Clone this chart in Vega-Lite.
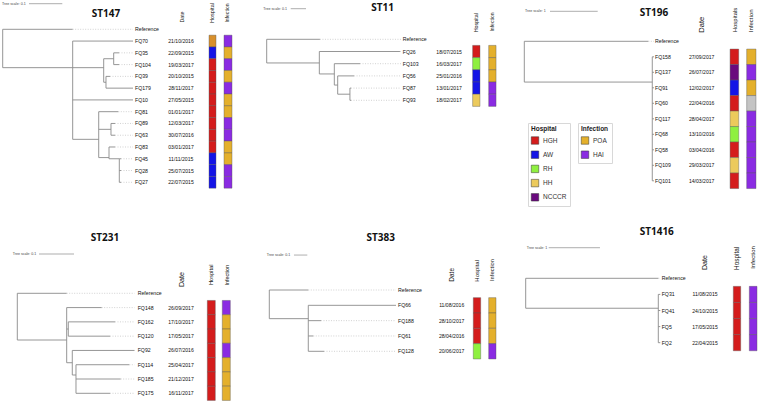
{
"$schema":"https://vega.github.io/schema/vega-lite/v6.json",
"padding":0,
"spacing":0,
"bounds":"flush",
"align":"each",
"columns":3,
"config":{"view":{"stroke":null},"axis":{"disable":true},"scale":{"continuousPadding":0},"text":{"font":"Liberation Sans","color":"#111"},
"legend":{"strokeColor":"#d8d8d8","padding":3,"titleFontSize":6.5,"titleFont":"Liberation Sans","titleFontWeight":"bold","titleColor":"#222","labelFontSize":6.5,"labelFont":"Liberation Sans","labelColor":"#333","symbolType":"square","symbolSize":56,"symbolStrokeColor":"#333","symbolStrokeWidth":0.5,"rowPadding":4.2,"titlePadding":4,"labelOffset":4,"symbolOpacity":1}},
"datasets":{
"panels":[
{"st":"ST147","title":"ST147","scale":"Tree scale: 0.1"},
{"st":"ST11","title":"ST11","scale":"Tree scale: 0.1"},
{"st":"ST196","title":"ST196","scale":"Tree scale: 1"},
{"st":"ST231","title":"ST231","scale":"Tree scale: 0.1"},
{"st":"ST383","title":"ST383","scale":"Tree scale: 0.1"},
{"st":"ST1416","title":"ST1416","scale":"Tree scale: 1"}],
"hedges":[
{"st":"ST147","x":0,"x2":0.2108,"y":3.26},
{"st":"ST147","x":0.2108,"x2":0.3042,"y":3.26},
{"st":"ST147","x":0.3042,"x2":0.3343,"y":2.5},
{"st":"ST147","x":0.3042,"x2":0.3111,"y":4.5},
{"st":"ST147","x":0.2108,"x2":0.2892,"y":9.35},
{"st":"ST147","x":0.2892,"x2":0.3262,"y":8.5},
{"st":"ST147","x":0.2892,"x2":0.3202,"y":10.9},
{"st":"ST147","x":0.3202,"x2":0.3512,"y":11},
{"st":"ST11","x":0,"x2":0.344,"y":1.94},
{"st":"ST11","x":0.344,"x2":0.442,"y":2.84},
{"st":"ST11","x":0.442,"x2":0.464,"y":3.75},
{"st":"ST11","x":0.464,"x2":0.544,"y":4.5},
{"st":"ST196","x":0,"x2":2.683,"y":2.63},
{"st":"ST231","x":0,"x2":0.1411,"y":3.27},
{"st":"ST231","x":0.1411,"x2":0.1457,"y":2.5},
{"st":"ST231","x":0.1411,"x2":0.1571,"y":4.86},
{"st":"ST231","x":0.1571,"x2":0.1677,"y":5.72},
{"st":"ST383","x":0,"x2":0.2932,"y":1.87},
{"st":"ST1416","x":0,"x2":2.585,"y":1.86}],
"vedges":[
{"st":"ST147","x":0,"y":0,"y2":3.26},
{"st":"ST147","x":0.2108,"y":1,"y2":9.35},
{"st":"ST147","x":0.3042,"y":2.5,"y2":4.5},
{"st":"ST147","x":0.3343,"y":2,"y2":3},
{"st":"ST147","x":0.3111,"y":4,"y2":5},
{"st":"ST147","x":0.2892,"y":7,"y2":10.9},
{"st":"ST147","x":0.3262,"y":8,"y2":9},
{"st":"ST147","x":0.3202,"y":10,"y2":11},
{"st":"ST147","x":0.3512,"y":11,"y2":13},
{"st":"ST11","x":0,"y":0,"y2":1.94},
{"st":"ST11","x":0.344,"y":1,"y2":2.84},
{"st":"ST11","x":0.442,"y":2,"y2":3.75},
{"st":"ST11","x":0.464,"y":3,"y2":4.5},
{"st":"ST11","x":0.544,"y":4,"y2":5},
{"st":"ST196","x":0,"y":0,"y2":2.63},
{"st":"ST196","x":2.683,"y":1,"y2":9},
{"st":"ST231","x":0,"y":0,"y2":3.27},
{"st":"ST231","x":0.1411,"y":1,"y2":4.86},
{"st":"ST231","x":0.1457,"y":2,"y2":3},
{"st":"ST231","x":0.1571,"y":4,"y2":5.72},
{"st":"ST231","x":0.1677,"y":5,"y2":7},
{"st":"ST383","x":0,"y":0,"y2":1.87},
{"st":"ST383","x":0.2932,"y":1,"y2":4},
{"st":"ST1416","x":0,"y":0,"y2":1.86},
{"st":"ST1416","x":2.585,"y":1,"y2":4}],
"tips":[
{"st":"ST147","label":"Reference","r":0,"px":0,"tipx":0.2108},
{"st":"ST147","label":"FQ70","r":1,"px":0.2108,"tipx":0.3925,"date":"21/10/2016","hosp":"Other","inf":"HAI"},
{"st":"ST147","label":"FQ35","r":2,"px":0.3343,"tipx":0.3503,"date":"22/09/2015","hosp":"AW","inf":"POA"},
{"st":"ST147","label":"FQ104","r":3,"px":0.3343,"tipx":0.3503,"date":"19/03/2017","hosp":"HGH","inf":"HAI"},
{"st":"ST147","label":"FQ39","r":4,"px":0.3111,"tipx":0.3232,"date":"20/10/2015","hosp":"HGH","inf":"POA"},
{"st":"ST147","label":"FQ179","r":5,"px":0.3111,"tipx":0.3925,"date":"28/11/2017","hosp":"HGH","inf":"HAI"},
{"st":"ST147","label":"FQ10","r":6,"px":0.2108,"tipx":0.3925,"date":"27/05/2015","hosp":"HGH","inf":"POA"},
{"st":"ST147","label":"FQ81","r":7,"px":0.2892,"tipx":0.3482,"date":"01/01/2017","hosp":"HGH","inf":"POA"},
{"st":"ST147","label":"FQ89","r":8,"px":0.3262,"tipx":0.3383,"date":"12/03/2017","hosp":"HGH","inf":"HAI"},
{"st":"ST147","label":"FQ63","r":9,"px":0.3262,"tipx":0.3383,"date":"30/07/2016","hosp":"HGH","inf":"HAI"},
{"st":"ST147","label":"FQ83","r":10,"px":0.3202,"tipx":0.3383,"date":"03/01/2017","hosp":"HGH","inf":"POA"},
{"st":"ST147","label":"FQ45","r":11,"px":0.3512,"tipx":0.3563,"date":"11/11/2015","hosp":"AW","inf":"POA"},
{"st":"ST147","label":"FQ28","r":12,"px":0.3512,"tipx":0.3563,"date":"25/07/2015","hosp":"AW","inf":"HAI"},
{"st":"ST147","label":"FQ27","r":13,"px":0.3512,"tipx":0.3563,"date":"22/07/2015","hosp":"AW","inf":"HAI"},
{"st":"ST11","label":"Reference","r":0,"px":0,"tipx":0.348},
{"st":"ST11","label":"FQ26","r":1,"px":0.344,"tipx":0.871,"date":"18/07/2015","hosp":"HGH","inf":"POA"},
{"st":"ST11","label":"FQ103","r":2,"px":0.442,"tipx":0.61,"date":"16/03/2017","hosp":"RH","inf":"POA"},
{"st":"ST11","label":"FQ56","r":3,"px":0.464,"tipx":0.571,"date":"25/01/2016","hosp":"AW","inf":"POA"},
{"st":"ST11","label":"FQ87","r":4,"px":0.544,"tipx":0.551,"date":"13/01/2017","hosp":"AW","inf":"HAI"},
{"st":"ST11","label":"FQ93","r":5,"px":0.544,"tipx":0.551,"date":"18/02/2017","hosp":"HH","inf":"HAI"},
{"st":"ST196","label":"Reference","r":0,"px":0,"tipx":2.6},
{"st":"ST196","label":"FQ158","r":1,"px":2.683,"tipx":2.719,"date":"27/09/2017","hosp":"HGH","inf":"POA"},
{"st":"ST196","label":"FQ137","r":2,"px":2.683,"tipx":2.719,"date":"26/07/2017","hosp":"NCCCR","inf":"HAI"},
{"st":"ST196","label":"FQ91","r":3,"px":2.683,"tipx":2.719,"date":"12/02/2017","hosp":"AW","inf":"POA"},
{"st":"ST196","label":"FQ60","r":4,"px":2.683,"tipx":2.719,"date":"22/04/2016","hosp":"HGH","inf":"Unknown"},
{"st":"ST196","label":"FQ117","r":5,"px":2.683,"tipx":2.719,"date":"28/04/2017","hosp":"HH","inf":"HAI"},
{"st":"ST196","label":"FQ68","r":6,"px":2.683,"tipx":2.719,"date":"13/10/2016","hosp":"RH","inf":"HAI"},
{"st":"ST196","label":"FQ58","r":7,"px":2.683,"tipx":2.719,"date":"03/04/2016","hosp":"HGH","inf":"HAI"},
{"st":"ST196","label":"FQ109","r":8,"px":2.683,"tipx":2.719,"date":"29/03/2017","hosp":"HH","inf":"HAI"},
{"st":"ST196","label":"FQ101","r":9,"px":2.683,"tipx":2.719,"date":"14/03/2017","hosp":"HGH","inf":"HAI"},
{"st":"ST231","label":"Reference","r":0,"px":0,"tipx":0.1411},
{"st":"ST231","label":"FQ148","r":1,"px":0.1411,"tipx":0.2411,"date":"26/09/2017","hosp":"HGH","inf":"HAI"},
{"st":"ST231","label":"FQ162","r":2,"px":0.1457,"tipx":0.2791,"date":"17/10/2017","hosp":"HGH","inf":"POA"},
{"st":"ST231","label":"FQ120","r":3,"px":0.1457,"tipx":0.2649,"date":"17/05/2017","hosp":"HGH","inf":"POA"},
{"st":"ST231","label":"FQ92","r":4,"px":0.1571,"tipx":0.3349,"date":"26/07/2016","hosp":"HGH","inf":"HAI"},
{"st":"ST231","label":"FQ114","r":5,"px":0.1677,"tipx":0.32,"date":"25/04/2017","hosp":"HGH","inf":"POA"},
{"st":"ST231","label":"FQ185","r":6,"px":0.1677,"tipx":0.2954,"date":"21/12/2017","hosp":"HGH","inf":"POA"},
{"st":"ST231","label":"FQ175","r":7,"px":0.1677,"tipx":0.2649,"date":"16/11/2017","hosp":"HGH","inf":"POA"},
{"st":"ST383","label":"Reference","r":0,"px":0,"tipx":0.2932},
{"st":"ST383","label":"FQ66","r":1,"px":0.2932,"tipx":0.9526,"date":"11/08/2016","hosp":"HGH","inf":"POA"},
{"st":"ST383","label":"FQ188","r":2,"px":0.2932,"tipx":0.3887,"date":"28/10/2017","hosp":"HGH","inf":"POA"},
{"st":"ST383","label":"FQ61","r":3,"px":0.2932,"tipx":0.3308,"date":"28/04/2016","hosp":"HGH","inf":"POA"},
{"st":"ST383","label":"FQ128","r":4,"px":0.2932,"tipx":0.4113,"date":"20/06/2017","hosp":"RH","inf":"HAI"},
{"st":"ST1416","label":"Reference","r":0,"px":0,"tipx":2.585},
{"st":"ST1416","label":"FQ31","r":1,"px":2.585,"tipx":2.624,"date":"11/08/2015","hosp":"HGH","inf":"HAI"},
{"st":"ST1416","label":"FQ41","r":2,"px":2.585,"tipx":2.624,"date":"24/10/2015","hosp":"HGH","inf":"HAI"},
{"st":"ST1416","label":"FQ5","r":3,"px":2.585,"tipx":2.624,"date":"17/05/2015","hosp":"HGH","inf":"HAI"},
{"st":"ST1416","label":"FQ2","r":4,"px":2.585,"tipx":2.624,"date":"22/04/2015","hosp":"HGH","inf":"HAI"}]
},
"concat":[
{"width":250,"height":222,"layer":[
{"data":{"name":"hedges"},"transform":[{"filter":"datum.st==='ST147'"}],"mark":{"type":"rule","stroke":"#8a8a8a","strokeWidth":0.9},
"encoding":{"x":{"field":"x","type":"quantitative","scale":{"domain":[0,0.1],"range":[2.7,35.9],"nice":false,"zero":false,"padding":0}},"x2":{"field":"x2"},
"y":{"field":"y","type":"quantitative","scale":{"domain":[0,13],"range":[29.3,182.3],"nice":false,"zero":false,"padding":0}}}},
{"data":{"name":"vedges"},"transform":[{"filter":"datum.st==='ST147'"}],"mark":{"type":"rule","stroke":"#8a8a8a","strokeWidth":0.9},
"encoding":{"x":{"field":"x","type":"quantitative"},"y":{"field":"y","type":"quantitative"},"y2":{"field":"y2"}}},
{"data":{"name":"tips"},"transform":[{"filter":"datum.st==='ST147'"}],"mark":{"type":"rule","stroke":"#8a8a8a","strokeWidth":0.9},
"encoding":{"x":{"field":"px","type":"quantitative"},"x2":{"field":"tipx"},"y":{"field":"r","type":"quantitative"}}},
{"data":{"name":"tips"},"transform":[{"filter":"datum.st==='ST147'"}],"mark":{"type":"rule","stroke":"#b4b4b4","strokeWidth":0.6,"strokeDash":[1,1.5]},
"encoding":{"x":{"field":"tipx","type":"quantitative"},"x2":{"datum":0.3925},"y":{"field":"r","type":"quantitative"}}},
{"data":{"name":"tips"},"transform":[{"filter":"datum.st==='ST147'"}],"mark":{"type":"text","align":"left","baseline":"middle","fontSize":5.2},
"encoding":{"x":{"datum":0.3985},"y":{"field":"r","type":"quantitative"},"text":{"field":"label"}}},
{"data":{"name":"tips"},"transform":[{"filter":"datum.st==='ST147' && datum.date"}],"mark":{"type":"text","align":"center","baseline":"middle","fontSize":5.1},
"encoding":{"x":{"datum":0.537},"y":{"field":"r","type":"quantitative"},"text":{"field":"date"}}},
{"data":{"name":"tips"},"transform":[{"filter":"datum.st==='ST147' && datum.hosp"}],"mark":{"type":"bar","size":11.77,"stroke":"#555","strokeWidth":0.4},
"encoding":{"x":{"datum":0.6214},"x2":{"datum":0.6425},"y":{"field":"r","type":"quantitative"},
"fill":{"field":"hosp","type":"nominal","scale":{"domain":["HGH","AW","RH","HH","NCCCR","Other"],"range":["#d41c1c","#1414e6","#8ff040","#ecca5c","#6a0a7e","#d8902c"]},"legend":{"title":"Hospital","orient":"none","legendX":528,"legendY":123,"values":["HGH","AW","RH","HH","NCCCR"]}}}},
{"data":{"name":"tips"},"transform":[{"filter":"datum.st==='ST147' && datum.inf"}],"mark":{"type":"bar","size":11.77,"stroke":"#555","strokeWidth":0.4},
"encoding":{"x":{"datum":0.6666},"x2":{"datum":0.6907},"y":{"field":"r","type":"quantitative"},
"color":{"field":"inf","type":"nominal","scale":{"domain":["POA","HAI","Unknown"],"range":["#e4b02c","#8a2be2","#c4c4c4"]},"legend":{"title":"Infection","orient":"none","legendX":578,"legendY":123,"values":["POA","HAI"]}}}},
{"data":{"name":"panels"},"transform":[{"filter":"datum.st==='ST147'"}],"mark":{"type":"text","font":"Open Sans","fontWeight":"bold","fontSize":10,"align":"center","baseline":"middle"},
"encoding":{"x":{"datum":0.3111},"y":{"datum":-1.3},"text":{"field":"title"}}},
{"data":{"name":"panels"},"transform":[{"filter":"datum.st==='ST147'"}],"mark":{"type":"text","fontSize":5.2,"angle":270,"align":"center","baseline":"middle"},
"encoding":{"x":{"datum":0.5392},"y":{"datum":-1.045},"text":{"value":"Date"}}},
{"data":{"name":"panels"},"transform":[{"filter":"datum.st==='ST147'"}],"mark":{"type":"text","fontSize":5.5,"angle":270,"align":"center","baseline":"middle"},
"encoding":{"x":{"datum":0.6304},"y":{"datum":-1.385},"text":{"value":"Hospital"}}},
{"data":{"name":"panels"},"transform":[{"filter":"datum.st==='ST147'"}],"mark":{"type":"text","fontSize":5.1,"angle":270,"align":"center","baseline":"middle"},
"encoding":{"x":{"datum":0.6771},"y":{"datum":-1.385},"text":{"value":"Infection"}}},
{"data":{"name":"panels"},"transform":[{"filter":"datum.st==='ST147'"}],"mark":{"type":"text","fontSize":3.6,"align":"left","baseline":"middle","color":"#444"},
"encoding":{"x":{"datum":-0.0021},"y":{"datum":-2.175},"text":{"field":"scale"}}},
{"data":{"name":"panels"},"transform":[{"filter":"datum.st==='ST147'"}],"mark":{"type":"rule","stroke":"#777","strokeWidth":0.6},
"encoding":{"x":{"datum":0.0792},"x2":{"datum":0.1795},"y":{"datum":-2.175}}}
]},
{"width":250,"height":222,"layer":[
{"data":{"name":"hedges"},"transform":[{"filter":"datum.st==='ST11'"}],"mark":{"type":"rule","stroke":"#8a8a8a","strokeWidth":0.9},
"encoding":{"x":{"field":"x","type":"quantitative","scale":{"domain":[0,0.1],"range":[16.7,32.0],"nice":false,"zero":false,"padding":0}},"x2":{"field":"x2"},
"y":{"field":"y","type":"quantitative","scale":{"domain":[0,5],"range":[39.3,100.3],"nice":false,"zero":false,"padding":0}}}},
{"data":{"name":"vedges"},"transform":[{"filter":"datum.st==='ST11'"}],"mark":{"type":"rule","stroke":"#8a8a8a","strokeWidth":0.9},
"encoding":{"x":{"field":"x","type":"quantitative"},"y":{"field":"y","type":"quantitative"},"y2":{"field":"y2"}}},
{"data":{"name":"tips"},"transform":[{"filter":"datum.st==='ST11'"}],"mark":{"type":"rule","stroke":"#8a8a8a","strokeWidth":0.9},
"encoding":{"x":{"field":"px","type":"quantitative"},"x2":{"field":"tipx"},"y":{"field":"r","type":"quantitative"}}},
{"data":{"name":"tips"},"transform":[{"filter":"datum.st==='ST11'"}],"mark":{"type":"rule","stroke":"#b4b4b4","strokeWidth":0.6,"strokeDash":[1,1.5]},
"encoding":{"x":{"field":"tipx","type":"quantitative"},"x2":{"datum":0.878},"y":{"field":"r","type":"quantitative"}}},
{"data":{"name":"tips"},"transform":[{"filter":"datum.st==='ST11'"}],"mark":{"type":"text","align":"left","baseline":"middle","fontSize":5.2},
"encoding":{"x":{"datum":0.889},"y":{"field":"r","type":"quantitative"},"text":{"field":"label"}}},
{"data":{"name":"tips"},"transform":[{"filter":"datum.st==='ST11' && datum.date"}],"mark":{"type":"text","align":"center","baseline":"middle","fontSize":5.1},
"encoding":{"x":{"datum":1.192},"y":{"field":"r","type":"quantitative"},"text":{"field":"date"}}},
{"data":{"name":"tips"},"transform":[{"filter":"datum.st==='ST11' && datum.hosp"}],"mark":{"type":"bar","size":12.2,"stroke":"#555","strokeWidth":0.4},
"encoding":{"x":{"datum":1.346},"x2":{"datum":1.394},"y":{"field":"r","type":"quantitative"},
"fill":{"field":"hosp","type":"nominal","scale":{"domain":["HGH","AW","RH","HH","NCCCR","Other"],"range":["#d41c1c","#1414e6","#8ff040","#ecca5c","#6a0a7e","#d8902c"]},"legend":{"title":"Hospital","orient":"none","legendX":528,"legendY":123,"values":["HGH","AW","RH","HH","NCCCR"]}}}},
{"data":{"name":"tips"},"transform":[{"filter":"datum.st==='ST11' && datum.inf"}],"mark":{"type":"bar","size":12.2,"stroke":"#555","strokeWidth":0.4},
"encoding":{"x":{"datum":1.451},"x2":{"datum":1.499},"y":{"field":"r","type":"quantitative"},
"color":{"field":"inf","type":"nominal","scale":{"domain":["POA","HAI","Unknown"],"range":["#e4b02c","#8a2be2","#c4c4c4"]},"legend":{"title":"Infection","orient":"none","legendX":578,"legendY":123,"values":["POA","HAI"]}}}},
{"data":{"name":"panels"},"transform":[{"filter":"datum.st==='ST11'"}],"mark":{"type":"text","font":"Open Sans","fontWeight":"bold","fontSize":10,"align":"center","baseline":"middle"},
"encoding":{"x":{"datum":0.758},"y":{"datum":-2.6},"text":{"field":"title"}}},
{"data":{"name":"panels"},"transform":[{"filter":"datum.st==='ST11'"}],"mark":{"type":"text","fontSize":5.3,"angle":270,"align":"center","baseline":"middle"},
"encoding":{"x":{"datum":1.366},"y":{"datum":-1.36},"text":{"value":"Hospital"}}},
{"data":{"name":"panels"},"transform":[{"filter":"datum.st==='ST11'"}],"mark":{"type":"text","fontSize":5.1,"angle":270,"align":"center","baseline":"middle"},
"encoding":{"x":{"datum":1.475},"y":{"datum":-1.42},"text":{"value":"Infection"}}},
{"data":{"name":"panels"},"transform":[{"filter":"datum.st==='ST11'"}],"mark":{"type":"text","fontSize":3.6,"align":"left","baseline":"middle","color":"#444"},
"encoding":{"x":{"datum":-0.0222},"y":{"datum":-2.508},"text":{"field":"scale"}}},
{"data":{"name":"panels"},"transform":[{"filter":"datum.st==='ST11'"}],"mark":{"type":"rule","stroke":"#777","strokeWidth":0.6},
"encoding":{"x":{"datum":0.1569},"x2":{"datum":0.2569},"y":{"datum":-2.508}}}
]},
{"width":258,"height":222,"layer":[
{"data":{"name":"hedges"},"transform":[{"filter":"datum.st==='ST196'"}],"mark":{"type":"rule","stroke":"#8a8a8a","strokeWidth":0.9},
"encoding":{"x":{"field":"x","type":"quantitative","scale":{"domain":[0,1],"range":[24.3,72.0],"nice":false,"zero":false,"padding":0}},"x2":{"field":"x2"},
"y":{"field":"y","type":"quantitative","scale":{"domain":[0,9],"range":[41.3,180.8],"nice":false,"zero":false,"padding":0}}}},
{"data":{"name":"vedges"},"transform":[{"filter":"datum.st==='ST196'"}],"mark":{"type":"rule","stroke":"#8a8a8a","strokeWidth":0.9},
"encoding":{"x":{"field":"x","type":"quantitative"},"y":{"field":"y","type":"quantitative"},"y2":{"field":"y2"}}},
{"data":{"name":"tips"},"transform":[{"filter":"datum.st==='ST196'"}],"mark":{"type":"rule","stroke":"#8a8a8a","strokeWidth":0.9},
"encoding":{"x":{"field":"px","type":"quantitative"},"x2":{"field":"tipx"},"y":{"field":"r","type":"quantitative"}}},
{"data":{"name":"tips"},"transform":[{"filter":"datum.st==='ST196'"}],"mark":{"type":"rule","stroke":"#b4b4b4","strokeWidth":0.6,"strokeDash":[1,1.5]},
"encoding":{"x":{"field":"tipx","type":"quantitative"},"x2":{"datum":2.719},"y":{"field":"r","type":"quantitative"}}},
{"data":{"name":"tips"},"transform":[{"filter":"datum.st==='ST196'"}],"mark":{"type":"text","align":"left","baseline":"middle","fontSize":5.2},
"encoding":{"x":{"datum":2.74},"y":{"field":"r","type":"quantitative"},"text":{"field":"label"}}},
{"data":{"name":"tips"},"transform":[{"filter":"datum.st==='ST196' && datum.date"}],"mark":{"type":"text","align":"center","baseline":"middle","fontSize":5.1},
"encoding":{"x":{"datum":3.719},"y":{"field":"r","type":"quantitative"},"text":{"field":"date"}}},
{"data":{"name":"tips"},"transform":[{"filter":"datum.st==='ST196' && datum.hosp"}],"mark":{"type":"bar","size":15.5,"stroke":"#555","strokeWidth":0.4},
"encoding":{"x":{"datum":4.314},"x2":{"datum":4.495},"y":{"field":"r","type":"quantitative"},
"fill":{"field":"hosp","type":"nominal","scale":{"domain":["HGH","AW","RH","HH","NCCCR","Other"],"range":["#d41c1c","#1414e6","#8ff040","#ecca5c","#6a0a7e","#d8902c"]},"legend":{"title":"Hospital","orient":"none","legendX":528,"legendY":123,"values":["HGH","AW","RH","HH","NCCCR"]}}}},
{"data":{"name":"tips"},"transform":[{"filter":"datum.st==='ST196' && datum.inf"}],"mark":{"type":"bar","size":15.5,"stroke":"#555","strokeWidth":0.4},
"encoding":{"x":{"datum":4.662},"x2":{"datum":4.857},"y":{"field":"r","type":"quantitative"},
"color":{"field":"inf","type":"nominal","scale":{"domain":["POA","HAI","Unknown"],"range":["#e4b02c","#8a2be2","#c4c4c4"]},"legend":{"title":"Infection","orient":"none","legendX":578,"legendY":123,"values":["POA","HAI"]}}}},
{"data":{"name":"panels"},"transform":[{"filter":"datum.st==='ST196'"}],"mark":{"type":"text","font":"Open Sans","fontWeight":"bold","fontSize":10,"align":"center","baseline":"middle"},
"encoding":{"x":{"datum":2.719},"y":{"datum":-1.806},"text":{"field":"title"}}},
{"data":{"name":"panels"},"transform":[{"filter":"datum.st==='ST196'"}],"mark":{"type":"text","fontSize":7.6,"angle":270,"align":"center","baseline":"middle"},
"encoding":{"x":{"datum":3.732},"y":{"datum":-1.071},"text":{"value":"Date"}}},
{"data":{"name":"panels"},"transform":[{"filter":"datum.st==='ST196'"}],"mark":{"type":"text","fontSize":6,"angle":270,"align":"center","baseline":"middle"},
"encoding":{"x":{"datum":4.417},"y":{"datum":-1.374},"text":{"value":"Hospitals"}}},
{"data":{"name":"panels"},"transform":[{"filter":"datum.st==='ST196'"}],"mark":{"type":"text","fontSize":6,"angle":270,"align":"center","baseline":"middle"},
"encoding":{"x":{"datum":4.744},"y":{"datum":-1.32},"text":{"value":"Infection"}}},
{"data":{"name":"panels"},"transform":[{"filter":"datum.st==='ST196'"}],"mark":{"type":"text","fontSize":3.6,"align":"left","baseline":"middle","color":"#444"},
"encoding":{"x":{"datum":0.0147},"y":{"datum":-1.935},"text":{"field":"scale"}}},
{"data":{"name":"panels"},"transform":[{"filter":"datum.st==='ST196'"}],"mark":{"type":"rule","stroke":"#777","strokeWidth":0.6},
"encoding":{"x":{"datum":0.5388},"x2":{"datum":1.5388},"y":{"datum":-1.935}}}
]},
{"width":250,"height":180,"layer":[
{"data":{"name":"hedges"},"transform":[{"filter":"datum.st==='ST231'"}],"mark":{"type":"rule","stroke":"#8a8a8a","strokeWidth":0.9},
"encoding":{"x":{"field":"x","type":"quantitative","scale":{"domain":[0,0.1],"range":[17.3,52.3],"nice":false,"zero":false,"padding":0}},"x2":{"field":"x2"},
"y":{"field":"y","type":"quantitative","scale":{"domain":[0,7],"range":[71.3,171.3],"nice":false,"zero":false,"padding":0}}}},
{"data":{"name":"vedges"},"transform":[{"filter":"datum.st==='ST231'"}],"mark":{"type":"rule","stroke":"#8a8a8a","strokeWidth":0.9},
"encoding":{"x":{"field":"x","type":"quantitative"},"y":{"field":"y","type":"quantitative"},"y2":{"field":"y2"}}},
{"data":{"name":"tips"},"transform":[{"filter":"datum.st==='ST231'"}],"mark":{"type":"rule","stroke":"#8a8a8a","strokeWidth":0.9},
"encoding":{"x":{"field":"px","type":"quantitative"},"x2":{"field":"tipx"},"y":{"field":"r","type":"quantitative"}}},
{"data":{"name":"tips"},"transform":[{"filter":"datum.st==='ST231'"}],"mark":{"type":"rule","stroke":"#b4b4b4","strokeWidth":0.6,"strokeDash":[1,1.5]},
"encoding":{"x":{"field":"tipx","type":"quantitative"},"x2":{"datum":0.3349},"y":{"field":"r","type":"quantitative"}}},
{"data":{"name":"tips"},"transform":[{"filter":"datum.st==='ST231'"}],"mark":{"type":"text","align":"left","baseline":"middle","fontSize":5.2},
"encoding":{"x":{"datum":0.344},"y":{"field":"r","type":"quantitative"},"text":{"field":"label"}}},
{"data":{"name":"tips"},"transform":[{"filter":"datum.st==='ST231' && datum.date"}],"mark":{"type":"text","align":"center","baseline":"middle","fontSize":5.1},
"encoding":{"x":{"datum":0.4677},"y":{"field":"r","type":"quantitative"},"text":{"field":"date"}}},
{"data":{"name":"tips"},"transform":[{"filter":"datum.st==='ST231' && datum.hosp"}],"mark":{"type":"bar","size":14.29,"stroke":"#555","strokeWidth":0.4},
"encoding":{"x":{"datum":0.5429},"x2":{"datum":0.5657},"y":{"field":"r","type":"quantitative"},
"fill":{"field":"hosp","type":"nominal","scale":{"domain":["HGH","AW","RH","HH","NCCCR","Other"],"range":["#d41c1c","#1414e6","#8ff040","#ecca5c","#6a0a7e","#d8902c"]},"legend":{"title":"Hospital","orient":"none","legendX":528,"legendY":123,"values":["HGH","AW","RH","HH","NCCCR"]}}}},
{"data":{"name":"tips"},"transform":[{"filter":"datum.st==='ST231' && datum.inf"}],"mark":{"type":"bar","size":14.29,"stroke":"#555","strokeWidth":0.4},
"encoding":{"x":{"datum":0.5857},"x2":{"datum":0.6086},"y":{"field":"r","type":"quantitative"},
"color":{"field":"inf","type":"nominal","scale":{"domain":["POA","HAI","Unknown"],"range":["#e4b02c","#8a2be2","#c4c4c4"]},"legend":{"title":"Infection","orient":"none","legendX":578,"legendY":123,"values":["POA","HAI"]}}}},
{"data":{"name":"panels"},"transform":[{"filter":"datum.st==='ST231'"}],"mark":{"type":"text","font":"Open Sans","fontWeight":"bold","fontSize":10,"align":"center","baseline":"middle"},
"encoding":{"x":{"datum":0.2506},"y":{"datum":-3.85},"text":{"field":"title"}}},
{"data":{"name":"panels"},"transform":[{"filter":"datum.st==='ST231'"}],"mark":{"type":"text","fontSize":7.2,"angle":270,"align":"center","baseline":"middle"},
"encoding":{"x":{"datum":0.4697},"y":{"datum":-0.966},"text":{"value":"Date"}}},
{"data":{"name":"panels"},"transform":[{"filter":"datum.st==='ST231'"}],"mark":{"type":"text","fontSize":5.7,"angle":270,"align":"center","baseline":"middle"},
"encoding":{"x":{"datum":0.5543},"y":{"datum":-1.3},"text":{"value":"Hospital"}}},
{"data":{"name":"panels"},"transform":[{"filter":"datum.st==='ST231'"}],"mark":{"type":"text","fontSize":5.4,"angle":270,"align":"center","baseline":"middle"},
"encoding":{"x":{"datum":0.5991},"y":{"datum":-1.26},"text":{"value":"Infection"}}},
{"data":{"name":"panels"},"transform":[{"filter":"datum.st==='ST231'"}],"mark":{"type":"text","fontSize":3.6,"align":"left","baseline":"middle","color":"#444"},
"encoding":{"x":{"datum":-0.0131},"y":{"datum":-2.75},"text":{"field":"scale"}}},
{"data":{"name":"panels"},"transform":[{"filter":"datum.st==='ST231'"}],"mark":{"type":"rule","stroke":"#777","strokeWidth":0.6},
"encoding":{"x":{"datum":0.062},"x2":{"datum":0.162},"y":{"datum":-2.75}}}
]},
{"width":250,"height":180,"layer":[
{"data":{"name":"hedges"},"transform":[{"filter":"datum.st==='ST383'"}],"mark":{"type":"rule","stroke":"#8a8a8a","strokeWidth":0.9},
"encoding":{"x":{"field":"x","type":"quantitative","scale":{"domain":[0,0.1],"range":[19.3,32.6],"nice":false,"zero":false,"padding":0}},"x2":{"field":"x2"},
"y":{"field":"y","type":"quantitative","scale":{"domain":[0,4],"range":[68,129.3],"nice":false,"zero":false,"padding":0}}}},
{"data":{"name":"vedges"},"transform":[{"filter":"datum.st==='ST383'"}],"mark":{"type":"rule","stroke":"#8a8a8a","strokeWidth":0.9},
"encoding":{"x":{"field":"x","type":"quantitative"},"y":{"field":"y","type":"quantitative"},"y2":{"field":"y2"}}},
{"data":{"name":"tips"},"transform":[{"filter":"datum.st==='ST383'"}],"mark":{"type":"rule","stroke":"#8a8a8a","strokeWidth":0.9},
"encoding":{"x":{"field":"px","type":"quantitative"},"x2":{"field":"tipx"},"y":{"field":"r","type":"quantitative"}}},
{"data":{"name":"tips"},"transform":[{"filter":"datum.st==='ST383'"}],"mark":{"type":"rule","stroke":"#b4b4b4","strokeWidth":0.6,"strokeDash":[1,1.5]},
"encoding":{"x":{"field":"tipx","type":"quantitative"},"x2":{"datum":0.9526},"y":{"field":"r","type":"quantitative"}}},
{"data":{"name":"tips"},"transform":[{"filter":"datum.st==='ST383'"}],"mark":{"type":"text","align":"left","baseline":"middle","fontSize":5.2},
"encoding":{"x":{"datum":0.9677},"y":{"field":"r","type":"quantitative"},"text":{"field":"label"}}},
{"data":{"name":"tips"},"transform":[{"filter":"datum.st==='ST383' && datum.date"}],"mark":{"type":"text","align":"center","baseline":"middle","fontSize":5.1},
"encoding":{"x":{"datum":1.3714},"y":{"field":"r","type":"quantitative"},"text":{"field":"date"}}},
{"data":{"name":"tips"},"transform":[{"filter":"datum.st==='ST383' && datum.hosp"}],"mark":{"type":"bar","size":15.33,"stroke":"#555","strokeWidth":0.4},
"encoding":{"x":{"datum":1.5338},"x2":{"datum":1.5895},"y":{"field":"r","type":"quantitative"},
"fill":{"field":"hosp","type":"nominal","scale":{"domain":["HGH","AW","RH","HH","NCCCR","Other"],"range":["#d41c1c","#1414e6","#8ff040","#ecca5c","#6a0a7e","#d8902c"]},"legend":{"title":"Hospital","orient":"none","legendX":528,"legendY":123,"values":["HGH","AW","RH","HH","NCCCR"]}}}},
{"data":{"name":"tips"},"transform":[{"filter":"datum.st==='ST383' && datum.inf"}],"mark":{"type":"bar","size":15.33,"stroke":"#555","strokeWidth":0.4},
"encoding":{"x":{"datum":1.6496},"x2":{"datum":1.7045},"y":{"field":"r","type":"quantitative"},
"color":{"field":"inf","type":"nominal","scale":{"domain":["POA","HAI","Unknown"],"range":["#e4b02c","#8a2be2","#c4c4c4"]},"legend":{"title":"Infection","orient":"none","legendX":578,"legendY":123,"values":["POA","HAI"]}}}},
{"data":{"name":"panels"},"transform":[{"filter":"datum.st==='ST383'"}],"mark":{"type":"text","font":"Open Sans","fontWeight":"bold","fontSize":10,"align":"center","baseline":"middle"},
"encoding":{"x":{"datum":0.8376},"y":{"datum":-3.37},"text":{"field":"title"}}},
{"data":{"name":"panels"},"transform":[{"filter":"datum.st==='ST383'"}],"mark":{"type":"text","fontSize":6.5,"angle":270,"align":"center","baseline":"middle"},
"encoding":{"x":{"datum":1.3714},"y":{"datum":-0.99},"text":{"value":"Date"}}},
{"data":{"name":"panels"},"transform":[{"filter":"datum.st==='ST383'"}],"mark":{"type":"text","fontSize":6,"angle":270,"align":"center","baseline":"middle"},
"encoding":{"x":{"datum":1.5639},"y":{"datum":-1.25},"text":{"value":"Hospital"}}},
{"data":{"name":"panels"},"transform":[{"filter":"datum.st==='ST383'"}],"mark":{"type":"text","fontSize":5.8,"angle":270,"align":"center","baseline":"middle"},
"encoding":{"x":{"datum":1.6744},"y":{"datum":-1.3},"text":{"value":"Infection"}}},
{"data":{"name":"panels"},"transform":[{"filter":"datum.st==='ST383'"}],"mark":{"type":"text","fontSize":3.6,"align":"left","baseline":"middle","color":"#444"},
"encoding":{"x":{"datum":-0.0195},"y":{"datum":-2.28},"text":{"field":"scale"}}},
{"data":{"name":"panels"},"transform":[{"filter":"datum.st==='ST383'"}],"mark":{"type":"rule","stroke":"#777","strokeWidth":0.6},
"encoding":{"x":{"datum":0.1857},"x2":{"datum":0.2857},"y":{"datum":-2.28}}}
]},
{"width":258,"height":180,"layer":[
{"data":{"name":"hedges"},"transform":[{"filter":"datum.st==='ST1416'"}],"mark":{"type":"rule","stroke":"#8a8a8a","strokeWidth":0.9},
"encoding":{"x":{"field":"x","type":"quantitative","scale":{"domain":[0,1],"range":[25.7,77.0],"nice":false,"zero":false,"padding":0}},"x2":{"field":"x2"},
"y":{"field":"y","type":"quantitative","scale":{"domain":[0,4],"range":[56.3,120.7],"nice":false,"zero":false,"padding":0}}}},
{"data":{"name":"vedges"},"transform":[{"filter":"datum.st==='ST1416'"}],"mark":{"type":"rule","stroke":"#8a8a8a","strokeWidth":0.9},
"encoding":{"x":{"field":"x","type":"quantitative"},"y":{"field":"y","type":"quantitative"},"y2":{"field":"y2"}}},
{"data":{"name":"tips"},"transform":[{"filter":"datum.st==='ST1416'"}],"mark":{"type":"rule","stroke":"#8a8a8a","strokeWidth":0.9},
"encoding":{"x":{"field":"px","type":"quantitative"},"x2":{"field":"tipx"},"y":{"field":"r","type":"quantitative"}}},
{"data":{"name":"tips"},"transform":[{"filter":"datum.st==='ST1416'"}],"mark":{"type":"rule","stroke":"#b4b4b4","strokeWidth":0.6,"strokeDash":[1,1.5]},
"encoding":{"x":{"field":"tipx","type":"quantitative"},"x2":{"datum":2.624},"y":{"field":"r","type":"quantitative"}}},
{"data":{"name":"tips"},"transform":[{"filter":"datum.st==='ST1416'"}],"mark":{"type":"text","align":"left","baseline":"middle","fontSize":5.2},
"encoding":{"x":{"datum":2.651},"y":{"field":"r","type":"quantitative"},"text":{"field":"label"}}},
{"data":{"name":"tips"},"transform":[{"filter":"datum.st==='ST1416' && datum.date"}],"mark":{"type":"text","align":"center","baseline":"middle","fontSize":5.1},
"encoding":{"x":{"datum":3.495},"y":{"field":"r","type":"quantitative"},"text":{"field":"date"}}},
{"data":{"name":"tips"},"transform":[{"filter":"datum.st==='ST1416' && datum.hosp"}],"mark":{"type":"bar","size":16.1,"stroke":"#555","strokeWidth":0.4},
"encoding":{"x":{"datum":4.047},"x2":{"datum":4.191},"y":{"field":"r","type":"quantitative"},
"fill":{"field":"hosp","type":"nominal","scale":{"domain":["HGH","AW","RH","HH","NCCCR","Other"],"range":["#d41c1c","#1414e6","#8ff040","#ecca5c","#6a0a7e","#d8902c"]},"legend":{"title":"Hospital","orient":"none","legendX":528,"legendY":123,"values":["HGH","AW","RH","HH","NCCCR"]}}}},
{"data":{"name":"tips"},"transform":[{"filter":"datum.st==='ST1416' && datum.inf"}],"mark":{"type":"bar","size":16.1,"stroke":"#555","strokeWidth":0.4},
"encoding":{"x":{"datum":4.359},"x2":{"datum":4.509},"y":{"field":"r","type":"quantitative"},
"color":{"field":"inf","type":"nominal","scale":{"domain":["POA","HAI","Unknown"],"range":["#e4b02c","#8a2be2","#c4c4c4"]},"legend":{"title":"Infection","orient":"none","legendX":578,"legendY":123,"values":["POA","HAI"]}}}},
{"data":{"name":"panels"},"transform":[{"filter":"datum.st==='ST1416'"}],"mark":{"type":"text","font":"Open Sans","fontWeight":"bold","fontSize":10,"align":"center","baseline":"middle"},
"encoding":{"x":{"datum":2.554},"y":{"datum":-2.894},"text":{"field":"title"}}},
{"data":{"name":"panels"},"transform":[{"filter":"datum.st==='ST1416'"}],"mark":{"type":"text","fontSize":7.1,"angle":270,"align":"center","baseline":"middle"},
"encoding":{"x":{"datum":3.495},"y":{"datum":-0.98},"text":{"value":"Date"}}},
{"data":{"name":"panels"},"transform":[{"filter":"datum.st==='ST1416'"}],"mark":{"type":"text","fontSize":6.4,"angle":270,"align":"center","baseline":"middle"},
"encoding":{"x":{"datum":4.125},"y":{"datum":-1.24},"text":{"value":"Hospital"}}},
{"data":{"name":"panels"},"transform":[{"filter":"datum.st==='ST1416'"}],"mark":{"type":"text","fontSize":6,"angle":270,"align":"center","baseline":"middle"},
"encoding":{"x":{"datum":4.437},"y":{"datum":-1.29},"text":{"value":"Infection"}}},
{"data":{"name":"panels"},"transform":[{"filter":"datum.st==='ST1416'"}],"mark":{"type":"text","fontSize":3.6,"align":"left","baseline":"middle","color":"#444"},
"encoding":{"x":{"datum":0.0195},"y":{"datum":-1.9},"text":{"field":"scale"}}},
{"data":{"name":"panels"},"transform":[{"filter":"datum.st==='ST1416'"}],"mark":{"type":"rule","stroke":"#777","strokeWidth":0.6},
"encoding":{"x":{"datum":0.448},"x2":{"datum":1.448},"y":{"datum":-1.9}}}
]}
]
}
